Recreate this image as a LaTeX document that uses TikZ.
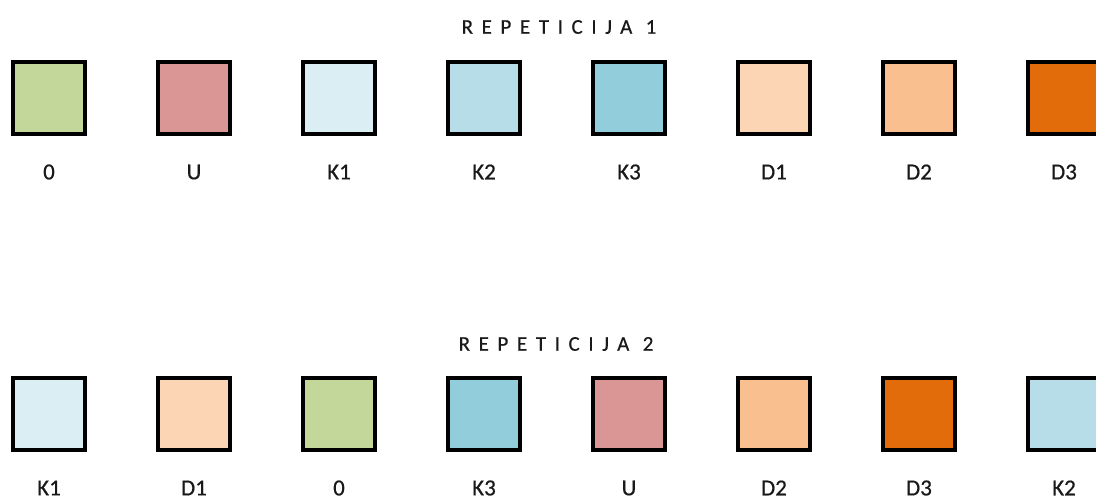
\documentclass[tikz,border=0pt]{standalone}
\usepackage{fontspec}
\setmainfont{Carlito}[FakeBold=0.6]
\newfontfamily\labelfont[FakeBold=0.6]{Carlito}
\newfontfamily\spacedfont[LetterSpace=41,FakeBold=0.5]{Carlito}
\definecolor{cO}{HTML}{C4D79B}
\definecolor{cU}{HTML}{DA9694}
\definecolor{cKa}{HTML}{DAEEF3}
\definecolor{cKb}{HTML}{B7DEE8}
\definecolor{cKc}{HTML}{92CDDC}
\definecolor{cDa}{HTML}{FCD5B4}
\definecolor{cDb}{HTML}{FABF8F}
\definecolor{cDc}{HTML}{E26B0A}
\tikzset{
  sq/.style={draw=black, line width=3.6pt, minimum width=72.5pt, minimum height=72.5pt, inner sep=0pt, fill=#1},
  lbl/.style={font=\labelfont\fontsize{23}{26}\selectfont, text=black!90, anchor=center},
  ttl/.style={font=\spacedfont\fontsize{21}{24}\selectfont, text=black!90, anchor=center}
}
\begin{document}
\begin{tikzpicture}[x=1pt,y=-1pt]
\useasboundingbox (0,0) rectangle (1096,500);
\clip (0,0) rectangle (1096,500);
\node[ttl] (t1) at (559,27) {REPETICIJA 1};
\node[ttl] (t2) at (556,344) {REPETICIJA 2};
% row 1
\foreach \n/\c/\l [count=\i from 0] in {a0/cO/0, a1/cU/U, a2/cKa/K1, a3/cKb/K2, a4/cKc/K3, a5/cDa/D1, a6/cDb/D2, a7/cDc/D3}{
  \node[sq=\c] (\n) at (49+145*\i,98) {};
  \node[lbl] (\n l) at (49+145*\i,172) {\l};
}
% row 2
\foreach \n/\c/\l [count=\i from 0] in {b0/cKa/K1, b1/cDa/D1, b2/cO/0, b3/cKc/K3, b4/cU/U, b5/cDb/D2, b6/cDc/D3, b7/cKb/K2}{
  \node[sq=\c] (\n) at (49+145*\i,414) {};
  \node[lbl] (\n l) at (49+145*\i,488) {\l};
}
\end{tikzpicture}
\end{document}
